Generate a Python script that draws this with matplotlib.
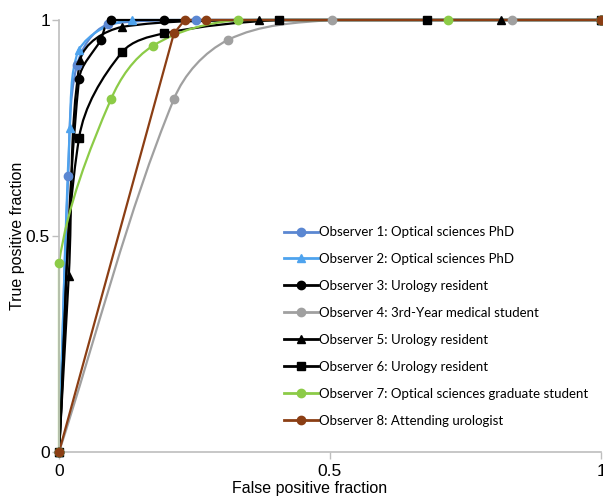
import matplotlib
matplotlib.use("Agg")
import matplotlib.pyplot as plt
from matplotlib.path import Path
from matplotlib.patches import PathPatch
from matplotlib.lines import Line2D
import numpy as np

# observer ROC operating points (false positive fraction, true positive fraction)
obs1_x = [0, 0.017, 0.033, 0.09, 0.253, 1]
obs1_y = [0, 0.64, 0.895, 0.99, 1, 1]
obs2_x = [0, 0.02, 0.036, 0.135, 1]
obs2_y = [0, 0.75, 0.93, 1, 1]
obs3_x = [0, 0.037, 0.077, 0.096, 0.194, 1]
obs3_y = [0, 0.863, 0.954, 1, 1, 1]
obs4_x = [0, 0.212, 0.312, 0.504, 0.836, 1]
obs4_y = [0, 0.817, 0.954, 1, 1, 1]
obs5_x = [0, 0.018, 0.039, 0.116, 0.369, 0.815, 1]
obs5_y = [0, 0.407, 0.907, 0.984, 1, 1, 1]
obs6_x = [0, 0.037, 0.116, 0.194, 0.406, 0.679, 1]
obs6_y = [0, 0.727, 0.925, 0.969, 1, 1, 1]
obs7_x = [0, 0, 0.096, 0.173, 0.33, 0.718, 1]
obs7_y = [0, 0.437, 0.817, 0.94, 1, 1, 1]
obs8_x = [0, 0.212, 0.232, 0.271, 1]
obs8_y = [0, 0.969, 1, 1, 1]

labels = ["Observer 1: Optical sciences PhD",
          "Observer 2: Optical sciences PhD",
          "Observer 3: Urology resident",
          "Observer 4: 3rd-Year medical student",
          "Observer 5: Urology resident",
          "Observer 6: Urology resident",
          "Observer 7: Optical sciences graduate student",
          "Observer 8: Attending urologist"]

series = [(obs1_x, obs1_y, "#5B87D2", "o", True),
          (obs2_x, obs2_y, "#4EA3EE", "^", True),
          (obs3_x, obs3_y, "#000000", "o", True),
          (obs4_x, obs4_y, "#A0A0A0", "o", True),
          (obs5_x, obs5_y, "#000000", "^", True),
          (obs6_x, obs6_y, "#000000", "s", True),
          (obs7_x, obs7_y, "#8CCB47", "o", True),
          (obs8_x, obs8_y, "#8B3E14", "o", False)]


def smooth_path(xs, ys):
    # smoothed line like excel: bezier through the points, kept monotone
    p = np.column_stack([xs, ys]).astype(float)
    sc = np.array([1.0, 0.8])  # roughly pixel aspect of the axes
    n = len(p)
    tang = []
    for i in range(n):
        a = p[max(i - 1, 0)]
        b = p[min(i + 1, n - 1)]
        d = (b - a) * sc
        nd = np.hypot(*d)
        tang.append(d / nd if nd > 0 else d)
    verts = [p[0]]
    codes = [Path.MOVETO]
    for i in range(n - 1):
        a, b = p[i], p[i + 1]
        seg = np.hypot(*((b - a) * sc))
        if a[0] == b[0]:
            c1 = a + (b - a) / 3.0
            c2 = b - (b - a) / 3.0
        else:
            c1 = a + tang[i] * seg / 3.0 / sc
            c2 = b - tang[i + 1] * seg / 3.0 / sc
            lo, hi = np.minimum(a, b), np.maximum(a, b)
            c1 = np.clip(c1, lo, hi)
            c2 = np.clip(c2, lo, hi)
        verts += [c1, c2, b]
        codes += [Path.CURVE4] * 3
    return Path(verts, codes)


fig = plt.figure(figsize=(6.03, 4.96), dpi=100)
ax = fig.add_axes([59 / 603, 1 - 452 / 496, 542 / 603, 432 / 496])

handles = []
for (xs, ys, col, mk, smooth), lab in zip(series, labels):
    if smooth:
        ax.add_patch(PathPatch(smooth_path(xs, ys), facecolor="none",
                               edgecolor=col, lw=1.6, clip_on=False, zorder=2))
    else:
        ax.plot(xs, ys, color=col, lw=1.6, clip_on=False, zorder=2)
    ax.plot(xs, ys, ls="none", marker=mk, ms=6, color=col, clip_on=False, zorder=3)
    handles.append(Line2D([], [], color=col, lw=2, marker=mk, ms=6, label=lab))

ax.set_xlim(0, 1)
ax.set_ylim(0, 1)
ax.set_xticks([0, 0.5, 1])
ax.set_xticklabels(["0", "0.5", "1"])
ax.set_yticks([0, 0.5, 1])
ax.set_yticklabels(["0", "0.5", "1"])
for s in ["top", "right"]:
    ax.spines[s].set_visible(False)
for s in ["left", "bottom"]:
    ax.spines[s].set_color("#BEBEBE")
    ax.spines[s].set_linewidth(1.2)
ax.tick_params(axis="both", colors="#BEBEBE", labelcolor="black",
               labelsize=12.5, length=5, width=1)
ax.tick_params(axis="y", pad=1.5)
for t in ax.get_xticklabels() + ax.get_yticklabels():
    t.set_family("Liberation Sans")
ax.set_xlabel("False positive fraction", fontsize=11.5, family="Liberation Sans")
ax.set_ylabel("True positive fraction", fontsize=11.5, family="Liberation Sans")
ax.xaxis.set_label_coords(0.463, -0.066)
ax.yaxis.set_label_coords(-0.063, 0.5)

leg = ax.legend(handles=handles, loc="upper left", bbox_to_anchor=(0.405, 0.535),
                frameon=False, prop={"family": "Lato", "size": 9.5},
                handlelength=2.6, handletextpad=0.1, labelspacing=1.13,
                borderaxespad=0)

fig.savefig("out.png", dpi=100)
